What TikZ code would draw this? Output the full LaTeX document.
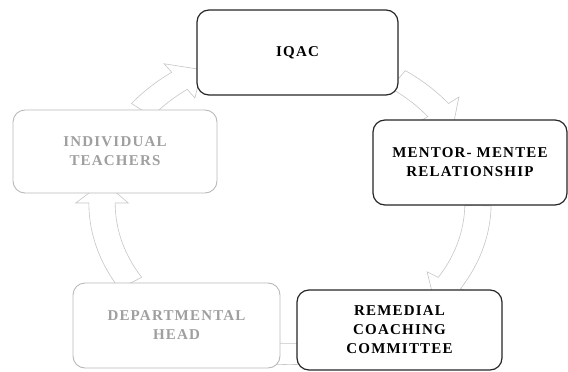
\documentclass[tikz,border=0pt]{standalone}
\usepackage{fontspec}
\setmainfont{Liberation Serif}
\newfontfamily\boxfont[LetterSpace=8]{Liberation Serif}
% #1 start angle, #2 end angle, #3 head half-width factor
\newcommand\cyarc[3]{%
  \pgfmathsetmacro\hs{#2-8}%
  \pgfmathsetmacro\ho{1+#3}%
  \pgfmathsetmacro\hi{1-#3}%
  \draw[arcline] plot[variable=\t,domain=#1:\hs,samples=20] ({290+188*1.07*cos(\t)},{203+151*1.07*sin(\t)})
    -- ({290+188*\ho*cos(\hs)},{203+151*\ho*sin(\hs)})
    -- ({290+188*cos(#2)},{203+151*sin(#2)})
    -- ({290+188*\hi*cos(\hs)},{203+151*\hi*sin(\hs)})
    -- plot[variable=\t,domain=\hs:#1,samples=20] ({290+188*0.93*cos(\t)},{203+151*0.93*sin(\t)})
    -- cycle;}
\begin{document}
\begin{tikzpicture}[x=1pt,y=-1pt,
  arcline/.style={draw=gray!45,line width=0.6pt,fill=white},
  cbox/.style={draw=black!85,line width=1.2pt,fill=white,rounded corners=12pt,
    align=center,inner sep=2pt,font=\boxfont\bfseries\fontsize{15}{19}\selectfont},
  fbox/.style={cbox,draw=gray!55,line width=0.9pt,text=gray!75}]
\useasboundingbox (0,0) rectangle (568,372);
% block arrows of the cycle
\cyarc{-55}{-30}{0.14}
\cyarc{1}{40}{0.14}
\cyarc{80}{104}{0.08}
\cyarc{148}{188}{0.14}
\cyarc{218}{242}{0.14}
% boxes
\node[cbox,minimum width=201pt,minimum height=85pt] (iqac) at (297.5,52.5) {IQAC};
\node[cbox,minimum width=194pt,minimum height=85pt] (mentor) at (470,162.5) {MENTOR- MENTEE\\RELATIONSHIP};
\node[cbox,minimum width=205pt,minimum height=80pt] (remedial) at (399.5,330) {REMEDIAL\\COACHING\\COMMITTEE};
\node[fbox,minimum width=207pt,minimum height=85pt] (dept) at (176.5,325.5) {DEPARTMENTAL\\HEAD};
\node[fbox,minimum width=204pt,minimum height=83pt] (indiv) at (115,151.5) {INDIVIDUAL\\TEACHERS};
\end{tikzpicture}
\end{document}
